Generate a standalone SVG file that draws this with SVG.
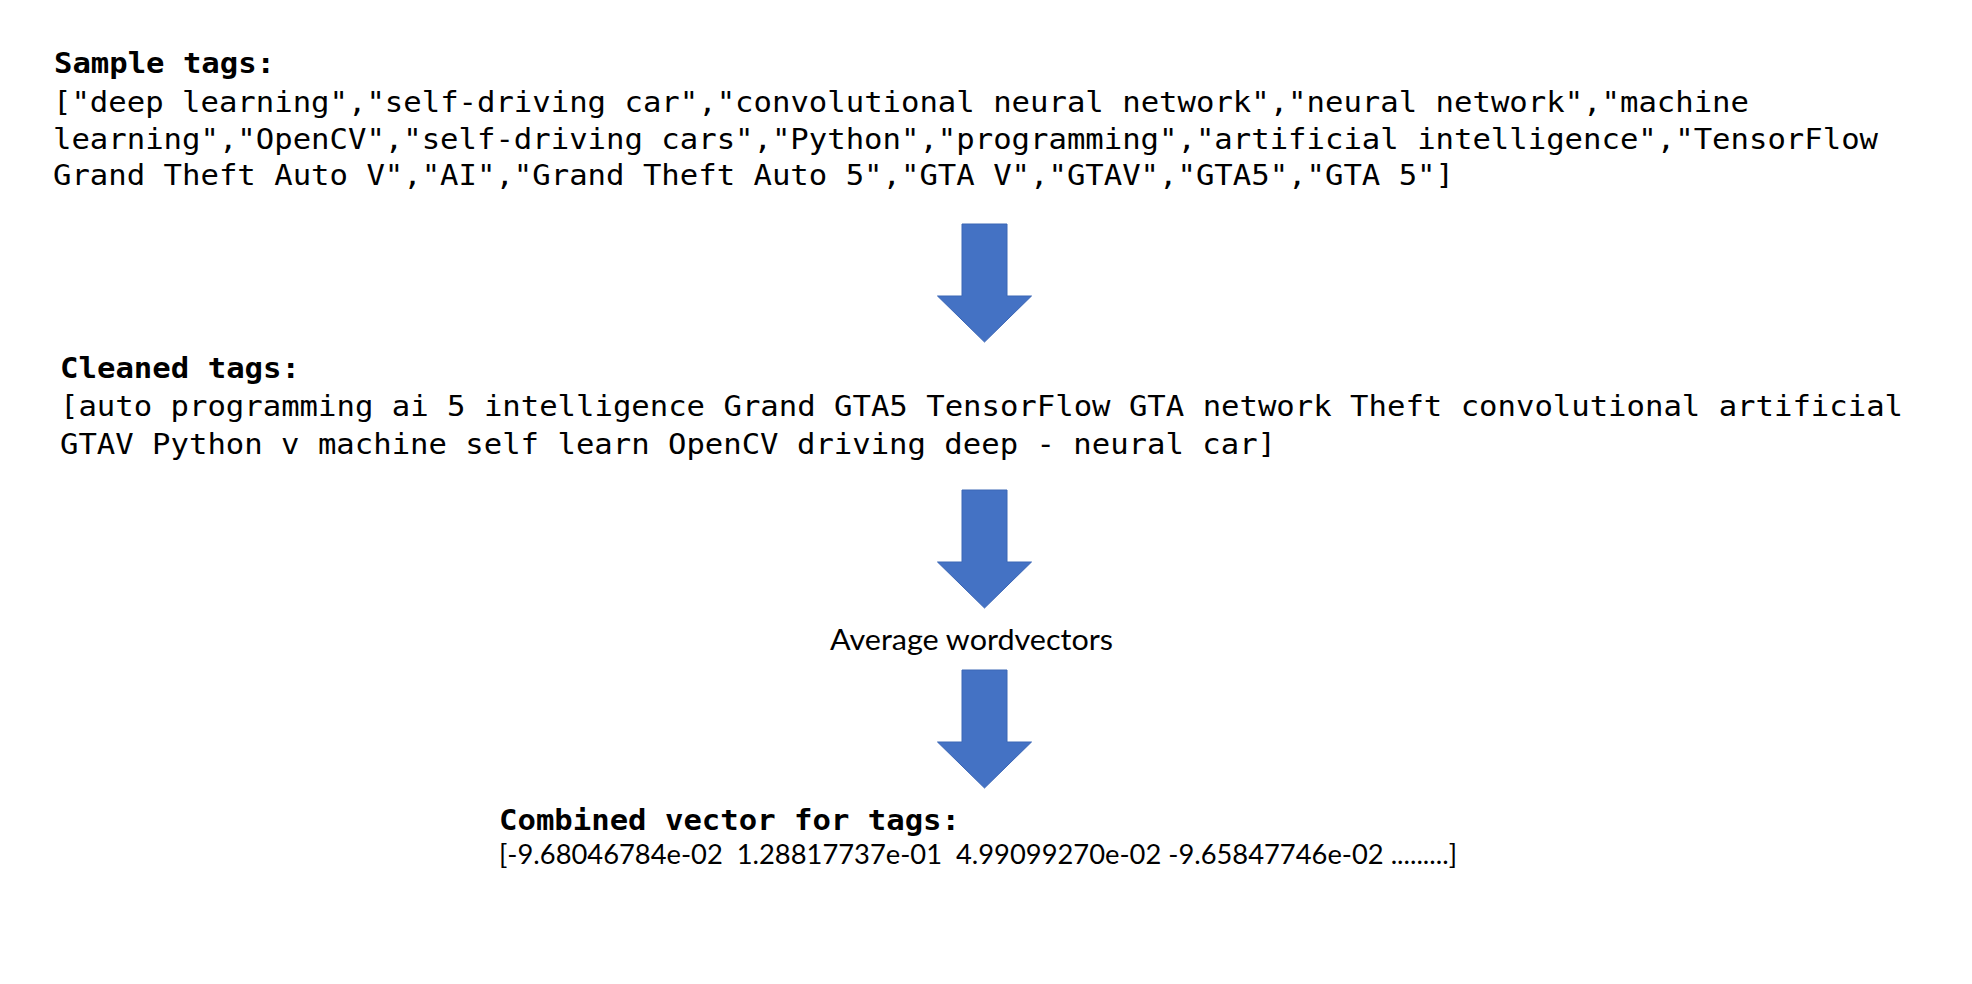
<svg xmlns="http://www.w3.org/2000/svg" xmlns:xlink="http://www.w3.org/1999/xlink" width="1972" height="984" viewBox="0 0 1972 984">
<style>
.mono{font-family:"DejaVu Sans Mono","Liberation Mono",monospace;font-size:28px;fill:#000;}
.mb{font-weight:bold;}
.sans{font-family:Lato,"Liberation Sans",sans-serif;fill:#000;white-space:pre;}
.arrow{fill:#4472C4;stroke:#3B66B5;stroke-width:1;}
</style>
<defs>
<path id="blockArrow" d="M -22.5 0 L 22.5 0 L 22.5 72 L 47 72 L 0 118 L -47 72 L -22.5 72 Z"/>
</defs>
<rect width="1972" height="984" fill="#fff"/>
<g id="node-sample-tags">
<text class="mono mb" x="54" y="73" textLength="221" lengthAdjust="spacingAndGlyphs">Sample tags:</text>
<text class="mono" x="53" y="112" textLength="1696" lengthAdjust="spacingAndGlyphs">["deep learning","self-driving car","convolutional neural network","neural network","machine</text>
<text class="mono" x="53" y="149" textLength="1825" lengthAdjust="spacingAndGlyphs">learning","OpenCV","self-driving cars","Python","programming","artificial intelligence","TensorFlow</text>
<text class="mono" x="53" y="185" textLength="1401" lengthAdjust="spacingAndGlyphs">Grand Theft Auto V","AI","Grand Theft Auto 5","GTA V","GTAV","GTA5","GTA 5"]</text>
</g>
<g id="node-cleaned-tags">
<text class="mono mb" x="60" y="378" textLength="240" lengthAdjust="spacingAndGlyphs">Cleaned tags:</text>
<text class="mono" x="60" y="416" textLength="1843" lengthAdjust="spacingAndGlyphs">[auto programming ai 5 intelligence Grand GTA5 TensorFlow GTA network Theft convolutional artificial</text>
<text class="mono" x="60" y="454" textLength="1216" lengthAdjust="spacingAndGlyphs">GTAV Python v machine self learn OpenCV driving deep - neural car]</text>
</g>
<g id="node-average">
<text class="sans" x="830" y="650" font-size="29" textLength="283" lengthAdjust="spacingAndGlyphs">Average wordvectors</text>
</g>
<g id="node-combined">
<text class="mono mb" x="499" y="830" textLength="461" lengthAdjust="spacingAndGlyphs">Combined vector for tags:</text>
<text class="sans" x="499" y="864" font-size="27" textLength="958" lengthAdjust="spacingAndGlyphs">[-9.68046784e-02  1.28817737e-01  4.99099270e-02 -9.65847746e-02 .........]</text>
</g>
<g id="connectors">
<use xlink:href="#blockArrow" href="#blockArrow" class="arrow" transform="translate(984.5,224)"/>
<use xlink:href="#blockArrow" href="#blockArrow" class="arrow" transform="translate(984.5,490)"/>
<use xlink:href="#blockArrow" href="#blockArrow" class="arrow" transform="translate(984.5,670)"/>
</g>
</svg>
